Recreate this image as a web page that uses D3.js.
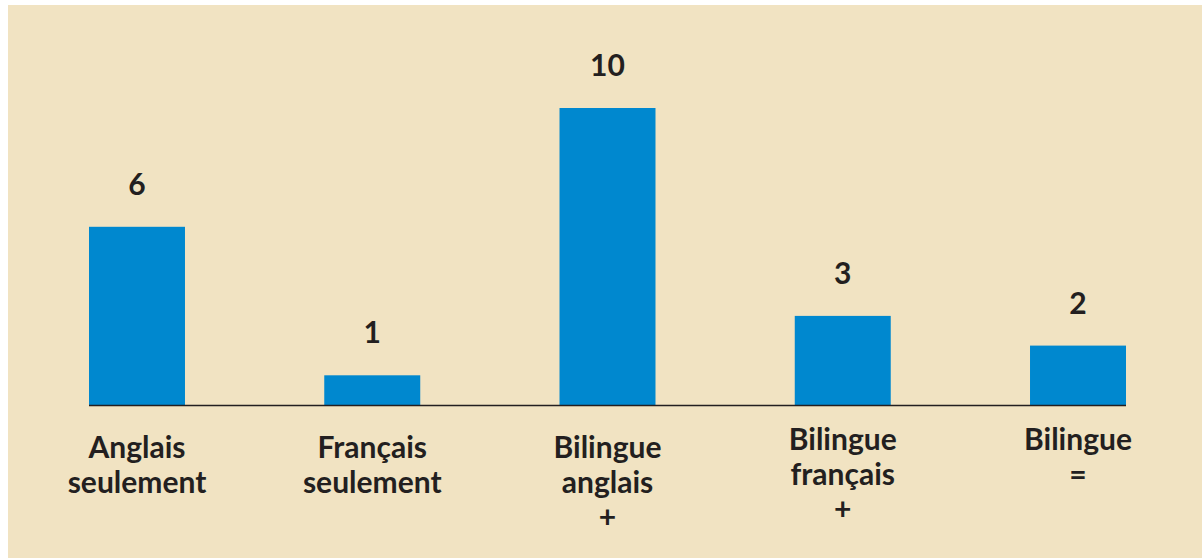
<!DOCTYPE html>
<html>
<head>
<meta charset="utf-8">
<script src="https://cdn.jsdelivr.net/npm/d3@7"></script>
<style>
  html, body { margin: 0; padding: 0; background: #ffffff; }
  svg { display: block; }
  text { font-family: Lato, "Open Sans", sans-serif; font-weight: 700; fill: #231f20; }
</style>
</head>
<body>
<div id="chart"></div>
<script>
// data
const categories = ["Anglais seulement", "Français seulement", "Bilingue anglais", "Bilingue français", "Bilingue"];
const labelLines = [
  ["Anglais", "seulement"],
  ["Français", "seulement"],
  ["Bilingue", "anglais", "+"],
  ["Bilingue", "français", "+"],
  ["Bilingue", "="]
];
const values = [6, 1, 10, 3, 2];

const W = 1202, H = 558;
const baseY = 405;
// the last two labels sit a little higher in the original
const labelShift = [0, 0, 0, -8, -8];

const svg = d3.select("#chart").append("svg")
  .attr("width", W)
  .attr("height", H);

// beige panel
svg.append("rect")
  .attr("x", 8).attr("y", 5)
  .attr("width", W - 8).attr("height", H - 5)
  .attr("fill", "#f1e3c2");

const x = d3.scaleBand()
  .domain(categories)
  .range([89, 1126])
  .paddingInner(0.592)
  .paddingOuter(0);

const y = d3.scaleLinear()
  .domain([0, 10])
  .range([baseY, 108]);

const rows = categories.map((c, i) => ({cat: c, v: values[i], lines: labelLines[i], dy: labelShift[i]}));

svg.selectAll("rect.bar")
  .data(rows)
  .join("rect")
  .attr("class", "bar")
  .attr("x", d => x(d.cat))
  .attr("y", d => y(d.v))
  .attr("width", x.bandwidth())
  .attr("height", d => y(0) - y(d.v))
  .attr("fill", "#0088cf");

// baseline
svg.append("line")
  .attr("x1", x.range()[0]).attr("x2", x.range()[1])
  .attr("y1", y(0) + 0.5).attr("y2", y(0) + 0.5)
  .attr("stroke", "#231f20")
  .attr("stroke-width", 1.5);

// value labels
svg.selectAll("text.val")
  .data(rows)
  .join("text")
  .attr("class", "val")
  .attr("x", d => x(d.cat) + x.bandwidth() / 2)
  .attr("y", d => y(d.v) - 32)
  .attr("text-anchor", "middle")
  .style("font-size", "30px")
  .text(d => d.v);

// category labels
const cat = svg.selectAll("text.cat")
  .data(rows)
  .join("text")
  .attr("class", "cat")
  .attr("text-anchor", "middle")
  .style("font-size", "30px");

cat.selectAll("tspan")
  .data(d => d.lines.map(l => ({l, cx: x(d.cat) + x.bandwidth() / 2, dy: d.dy})))
  .join("tspan")
  .attr("x", d => d.cx)
  .attr("y", (d, i) => 458 + d.dy + i * 35)
  .text(d => d.l);
</script>
</body>
</html>
